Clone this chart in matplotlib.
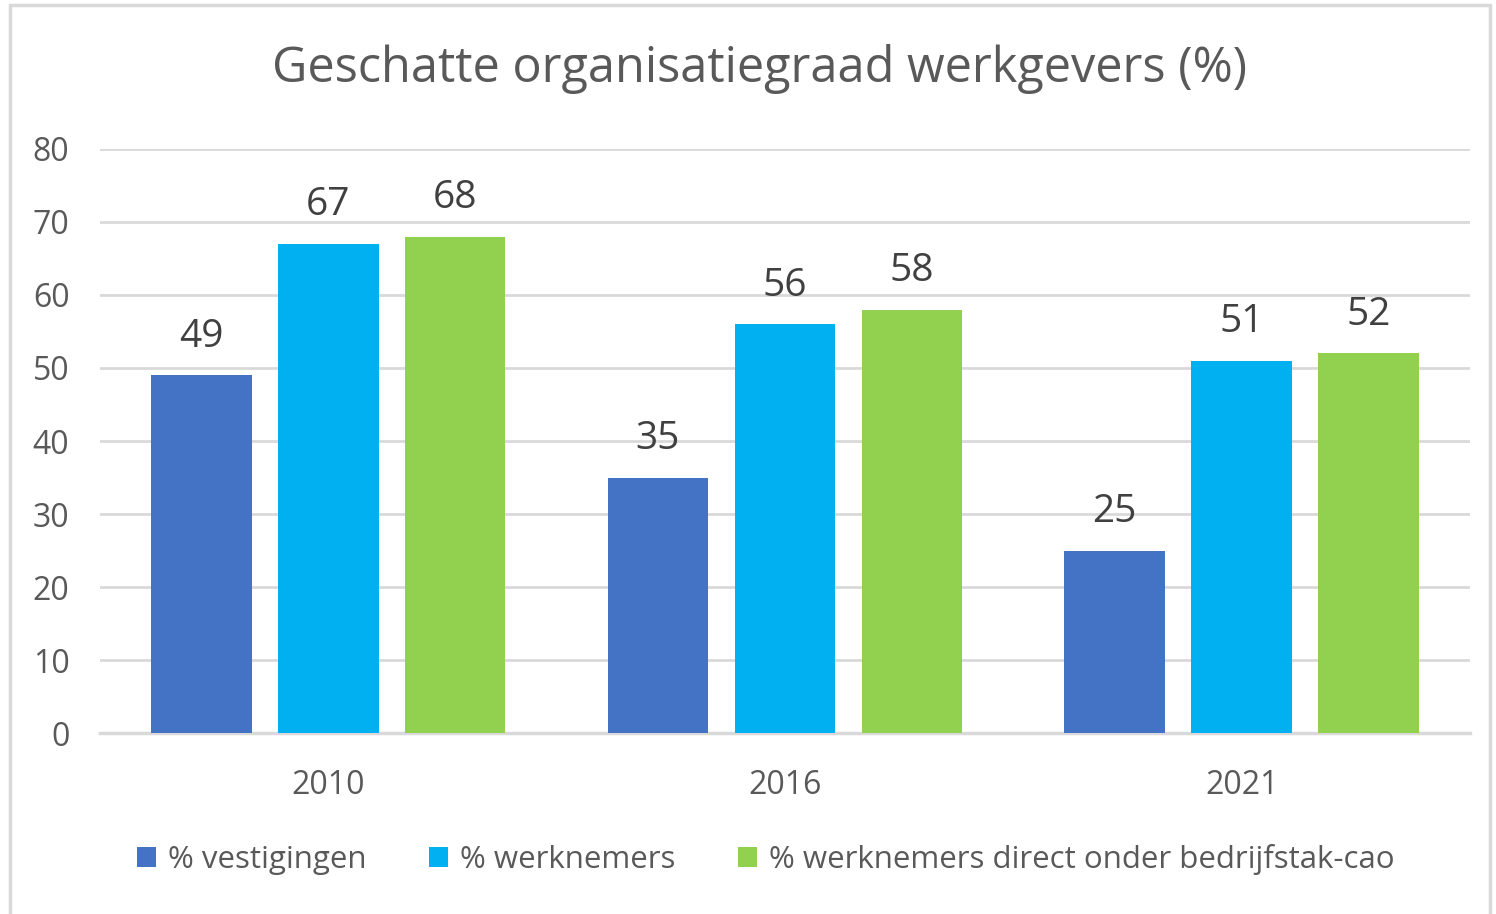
import matplotlib
matplotlib.use("Agg")
import matplotlib.pyplot as plt
import numpy as np
from matplotlib.patches import Rectangle

# data
years = ["2010", "2016", "2021"]
series = ["% vestigingen", "% werknemers", "% werknemers direct onder bedrijfstak-cao"]
vestigingen = [49, 35, 25]
werknemers = [67, 56, 51]
werknemers_cao = [68, 58, 52]
colors = ["#4472C4", "#00B0F0", "#92D050"]

plt.rcParams["font.family"] = ["Open Sans", "DejaVu Sans"]
txt = "#595959"

fig = plt.figure(figsize=(14.96, 9.14), dpi=100)
ax = fig.add_axes([0.0668, 0.198, 0.9158, 0.639])

# outer frame like the office chart
fig.patches.append(Rectangle((0.007, -0.01), 0.989, 1.004, transform=fig.transFigure,
                             fill=False, edgecolor="#D9D9D9", linewidth=2.5))

x = np.arange(len(years))
w = 0.22
step = 0.278
for i, (vals, col, name) in enumerate(zip([vestigingen, werknemers, werknemers_cao], colors, series)):
    bars = ax.bar(x + (i - 1) * step, vals, width=w, color=col, label=name, zorder=3)
    ax.bar_label(bars, padding=14, fontsize=28, color="#404040")

ax.set_xlim(-0.5, 2.5)
ax.set_ylim(0, 80)
ax.set_yticks(range(0, 81, 10))
ax.set_xticks(x)
ax.set_xticklabels(years)
ax.tick_params(axis="both", length=0, labelsize=23, colors=txt)
ax.tick_params(axis="x", pad=26)
ax.tick_params(axis="y", pad=22)
ax.grid(axis="y", color="#D9D9D9", linewidth=2, zorder=0)
for s in ["top", "right", "left"]:
    ax.spines[s].set_visible(False)
ax.spines["bottom"].set_color("#D9D9D9")
ax.spines["bottom"].set_linewidth(2.5)

fig.text(0.508, 0.925, "Geschatte organisatiegraad werkgevers (%)", ha="center", va="center",
         fontsize=35, color=txt)

fig.legend(loc="center", bbox_to_anchor=(0.512, 0.06), ncol=3, frameon=False,
           fontsize=22.5, labelcolor=txt, handlelength=0.6, handleheight=0.6,
           handletextpad=0.4, columnspacing=2.0)

fig.savefig("out.png", dpi=100)
